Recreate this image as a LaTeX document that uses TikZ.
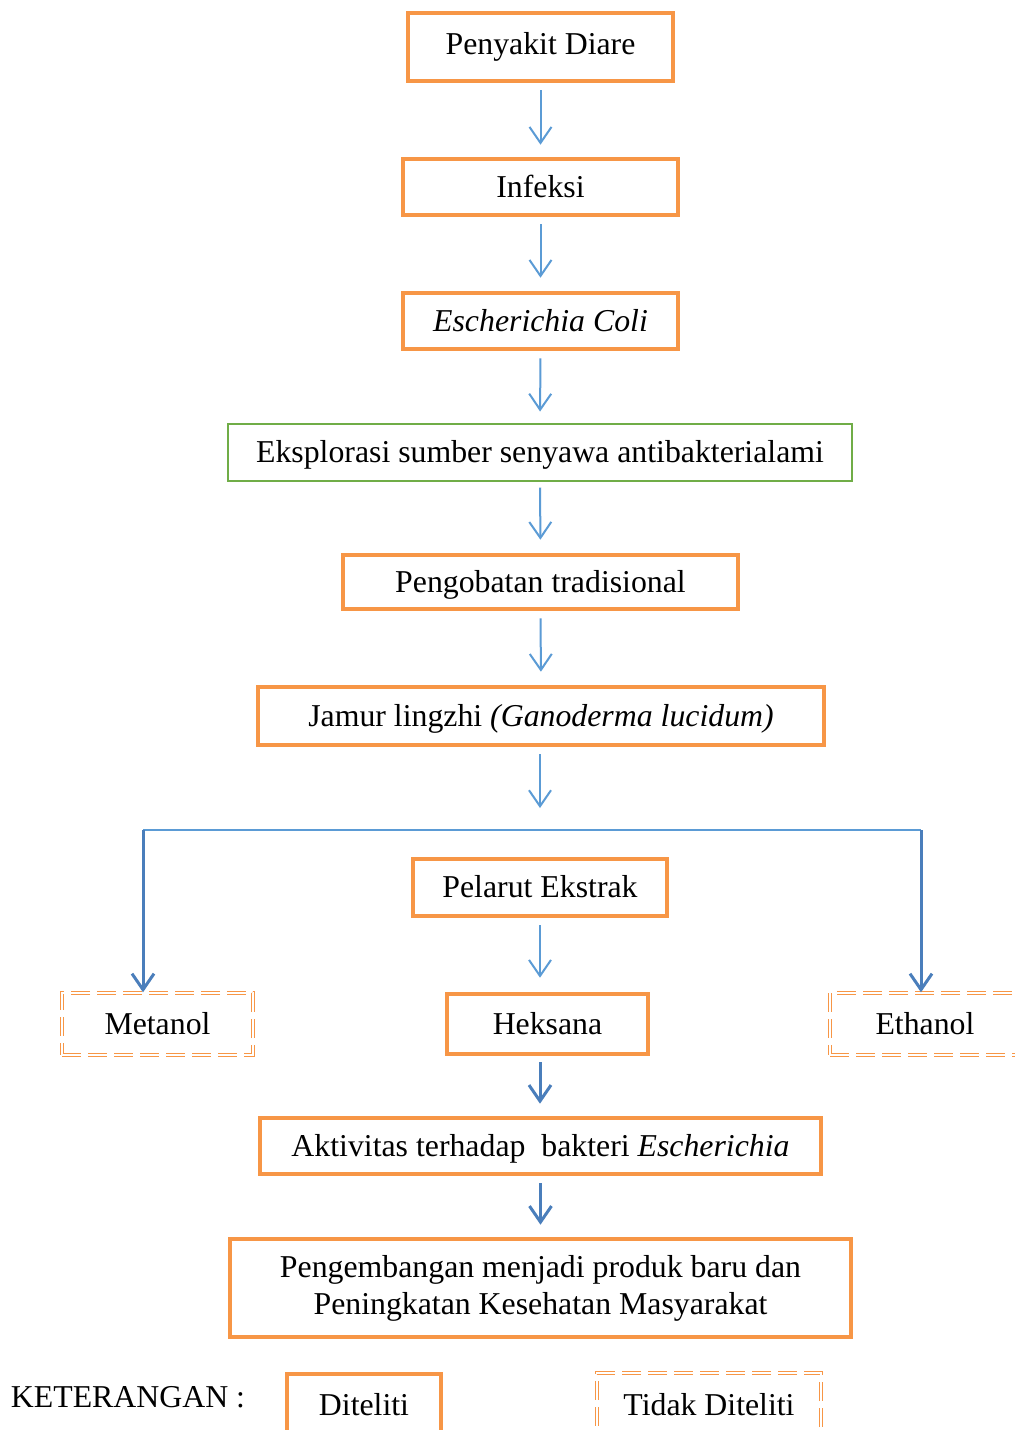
\documentclass[tikz,border=0pt]{standalone}
\usepackage{fontspec}
\setmainfont{Liberation Serif}
\usetikzlibrary{arrows.meta}
\definecolor{orng}{HTML}{F79646}
\definecolor{grn}{HTML}{70AD47}
\definecolor{lblue}{HTML}{5B9BD5}
\definecolor{dblue}{HTML}{4A7EBB}
\begin{document}
\begin{tikzpicture}[x=0.5pt,y=-0.5pt,
  font=\fontsize{15.9}{18.5}\selectfont,
  tpos/.style={text height=13.6pt, text depth=3.4pt},
  obox/.style={draw=orng, line width=2.3pt, inner sep=0pt, align=center},
  gbox/.style={draw=grn, line width=1pt, inner sep=0pt, align=center},
  dbox/.style={draw=orng, line width=0.7pt, double=white, double distance=1pt,
    dash pattern=on 9.5pt off 3.5pt, inner sep=0pt, align=center},
  arr/.style={draw=lblue, line width=1pt, -{Straight Barb[length=8pt,width=11pt]}},
  darr/.style={draw=dblue, line width=1.5pt, -{Straight Barb[length=8pt,width=11pt]}},
  hline/.style={draw=lblue, line width=0.6pt}]
\fill[white] (0,0) rectangle (1014,1430);
\useasboundingbox (0,0) rectangle (1014,1430);

\node[obox, text height=10.6pt, text depth=3.4pt, minimum width=132.5pt, minimum height=34pt] (diare) at (540.5,47) {Penyakit Diare};
\node[obox, tpos, minimum width=137.5pt, minimum height=28pt] (infeksi) at (540.5,187) {Infeksi};
\node[obox, tpos, minimum width=137.5pt, minimum height=28pt] (ecoli) at (540.5,321) {\textit{Escherichia Coli}};
\node[gbox, tpos, minimum width=312pt, minimum height=28.5pt] (eksp) at (540,452) {Eksplorasi sumber senyawa antibakterialami};
\node[obox, tpos, minimum width=197.5pt, minimum height=27pt] (pengob) at (540.5,582) {Pengobatan tradisional};
\node[obox, tpos, minimum width=283pt, minimum height=29pt] (jamur) at (541,716) {Jamur lingzhi \textit{(Ganoderma lucidum)}};
\node[obox, tpos, minimum width=127pt, minimum height=28.5pt] (pelarut) at (540,887.5) {Pelarut Ekstrak};
\node[dbox, tpos, minimum width=95.5pt, minimum height=31pt] (metanol) at (157.5,1024) {Metanol};
\node[obox, tpos, minimum width=100.5pt, minimum height=30pt] (heksana) at (547.5,1024) {Heksana};
\node[dbox, tpos, minimum width=95pt, minimum height=31pt] (ethanol) at (925,1024) {Ethanol};
\node[obox, tpos, minimum width=280.5pt, minimum height=28pt] (aktiv) at (540.5,1146) {Aktivitas terhadap\ \ bakteri \textit{Escherichia}};
\node[obox, minimum width=310.5pt, minimum height=49pt] (pengem) at (540.5,1288) {Pengembangan menjadi produk baru dan\\Peningkatan Kesehatan Masyarakat};

\node (ket) at (128,1397) {KETERANGAN :};
\node[obox, minimum width=77pt, minimum height=31pt] (dit) at (364,1405) {Diteliti};
\node[dbox, minimum width=112pt, minimum height=32pt] (tdit) at (709,1405) {Tidak Diteliti};

\draw[arr, shorten <=3.5pt, shorten >=6pt] (diare.south) -- (infeksi.north);
\draw[arr, shorten <=3.5pt, shorten >=6.5pt] (infeksi.south) -- (ecoli.north);
\draw[arr, shorten <=3.5pt, shorten >=5.5pt] (ecoli.south) -- (eksp.north);
\draw[arr, shorten <=3pt, shorten >=6.5pt] (eksp.south) -- (pengob.north);
\draw[arr, shorten <=3.5pt, shorten >=6.5pt] (pengob.south) -- (jamur.north);
\coordinate (jend) at (540,808);
\draw[arr, shorten <=3.5pt] (jamur.south -| jend) -- (jend);

\coordinate (hl) at (143,830);
\coordinate (hr) at (921,830);
\draw[hline] (hl) -- (hr);
\draw[darr] (hl) -- (metanol.north -| hl);
\draw[darr] (hr) -- (ethanol.north -| hr);

\draw[arr, shorten <=3.5pt, shorten >=7pt] (pelarut.south) -- (pelarut.south |- heksana.north);
\draw[darr, shorten <=3pt, shorten >=6pt] (heksana.south -| pelarut.south) -- (pelarut.south |- aktiv.north);
\draw[darr, shorten <=3.5pt, shorten >=6pt] (aktiv.south) -- (pengem.north);
\end{tikzpicture}
\end{document}
